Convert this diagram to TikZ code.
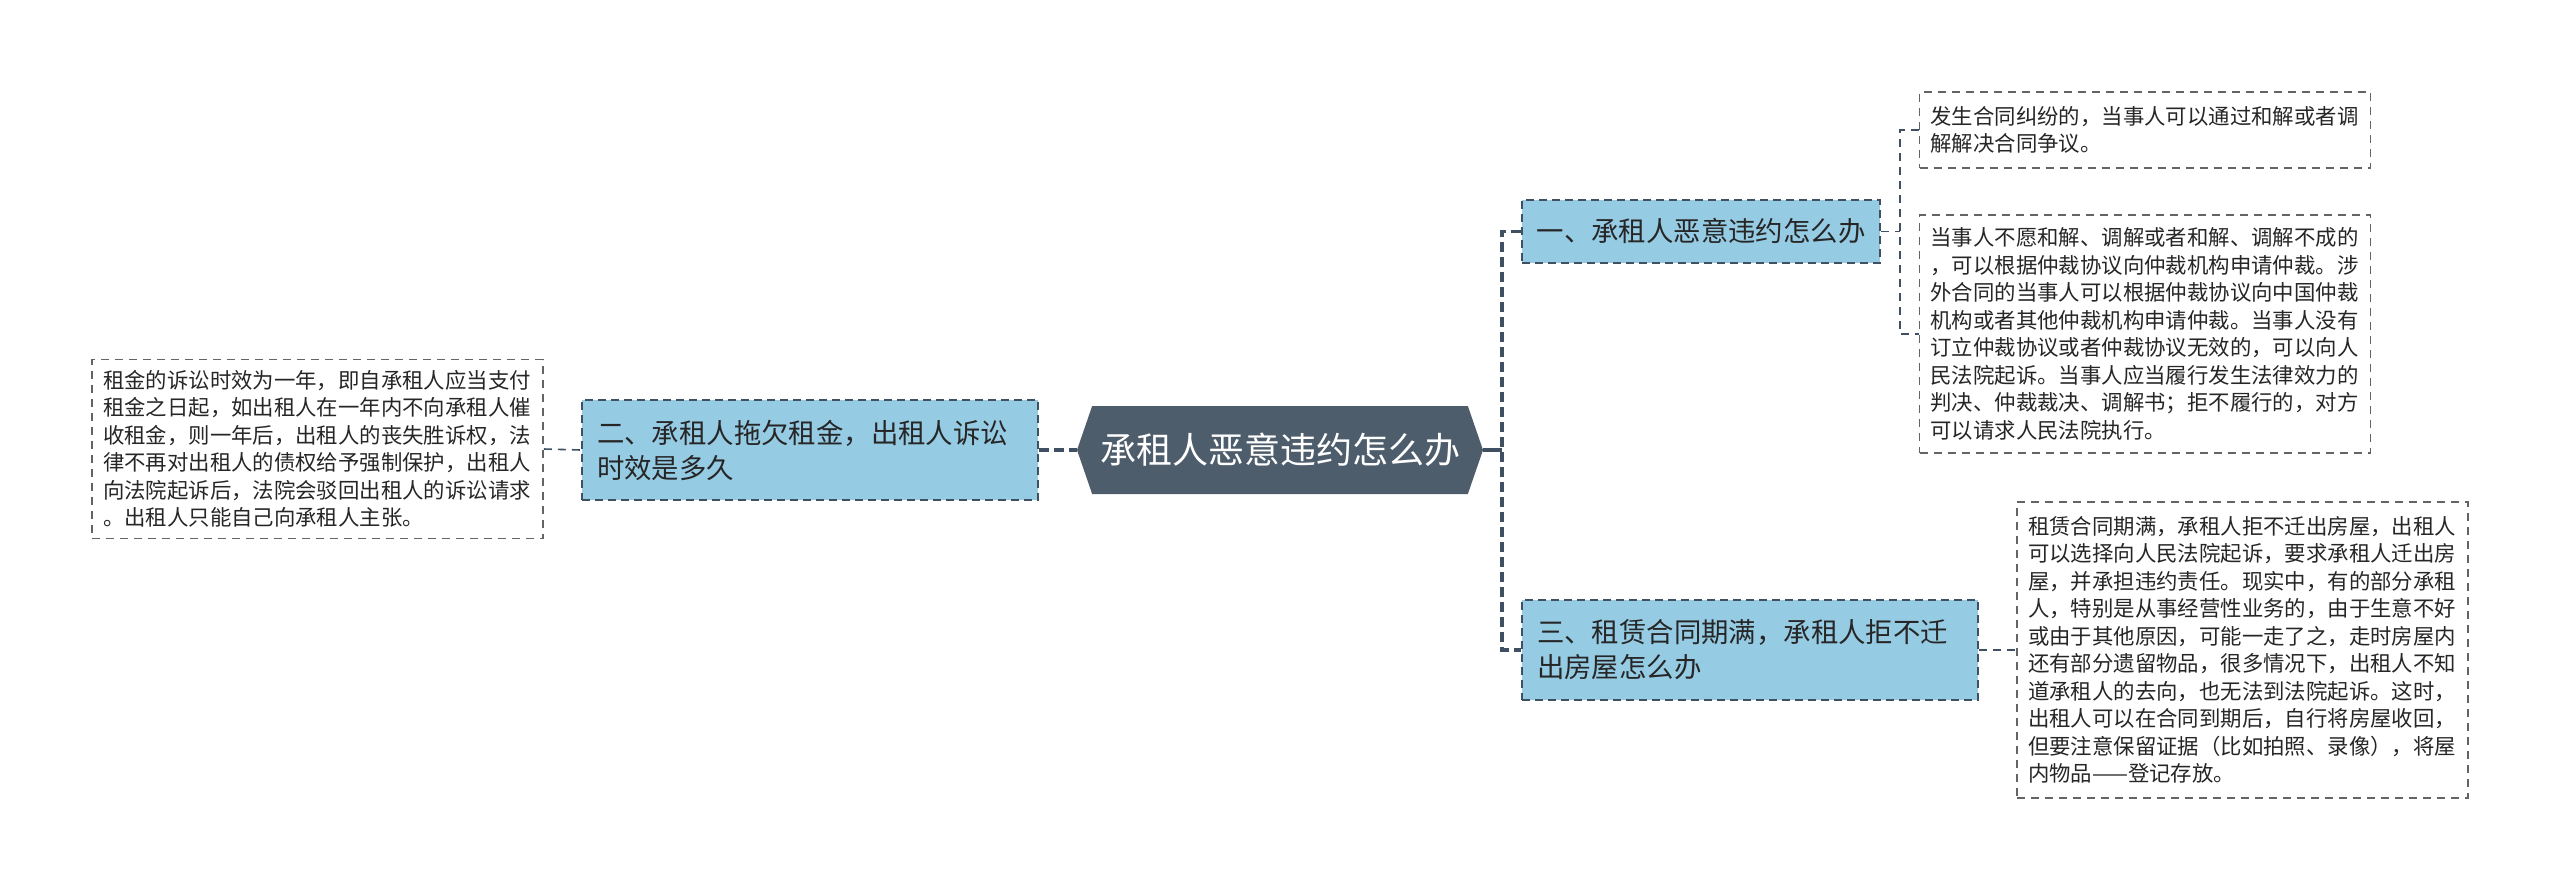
\documentclass[tikz,border=0pt]{standalone}
\usepackage{fontspec}
\usepackage{tikz}
\usetikzlibrary{shapes.symbols}
\newfontfamily\cjk{Noto Sans CJK SC}
\definecolor{rootc}{RGB}{78,93,108}
\definecolor{branchc}{RGB}{150,203,228}
\definecolor{linec}{RGB}{62,80,98}
\definecolor{leafline}{RGB}{100,100,100}

\begin{document}
\begin{tikzpicture}[x=0.5pt,y=-0.5pt,
    root/.style={signal, signal to=west and east, signal pointer angle=142, fill=rootc, text=white, inner sep=0pt, minimum width=203pt, minimum height=44pt, font=\cjk\fontsize{18pt}{22pt}\selectfont},
    branch/.style={draw=linec, fill=branchc, dash pattern=on 4pt off 2.5pt, line width=0.9pt, text=black!85, align=left, inner xsep=7.5pt, inner ysep=0pt, font=\cjk\fontsize{13.7pt}{17.5pt}\selectfont},
    leaf/.style={draw=leafline, dash pattern=on 4pt off 3pt, line width=0.8pt, fill=white, text=black!85, align=left, inner xsep=5.5pt, inner ysep=0pt, text width=214.5pt, font=\cjk\fontsize{10.7pt}{13.75pt}\selectfont},
    trunk/.style={draw=linec, line width=1.7pt, dash pattern=on 5pt off 2.5pt},
    thinlink/.style={draw=linec, line width=0.8pt, dash pattern=on 4pt off 3pt}]
    \useasboundingbox (0,0) rectangle (2560,891);
    \node[root] (0) at (1280,450) {承租人恶意违约怎么办};
    \node[branch, text width=179pt, inner xsep=0pt, align=center, minimum width=179pt, minimum height=31.5pt] (1) at (1701,231.5) {一、承租人恶意违约怎么办};
    \node[branch, text width=213pt, minimum height=50pt] (2) at (810,450) {二、承租人拖欠租金，出租人诉讼\\时效是多久};
    \node[branch, text width=213pt, minimum height=50pt] (3) at (1750,650) {三、租赁合同期满，承租人拒不迁\\出房屋怎么办};
    \node[leaf, minimum height=38pt] (11) at (2145,130) {发生合同纠纷的，当事人可以通过和解或者调\\解解决合同争议。};
    \node[leaf, minimum height=119pt] (12) at (2145,334) {当事人不愿和解、调解或者和解、调解不成的\\，可以根据仲裁协议向仲裁机构申请仲裁。涉\\外合同的当事人可以根据仲裁协议向中国仲裁\\机构或者其他仲裁机构申请仲裁。当事人没有\\订立仲裁协议或者仲裁协议无效的，可以向人\\民法院起诉。当事人应当履行发生法律效力的\\判决、仲裁裁决、调解书；拒不履行的，对方\\可以请求人民法院执行。};
    \node[leaf, minimum height=89.5pt] (21) at (317.5,449) {租金的诉讼时效为一年，即自承租人应当支付\\租金之日起，如出租人在一年内不向承租人催\\收租金，则一年后，出租人的丧失胜诉权，法\\律不再对出租人的债权给予强制保护，出租人\\向法院起诉后，法院会驳回出租人的诉讼请求\\。出租人只能自己向承租人主张。};
    \node[leaf, minimum height=148pt] (31) at (2242.5,650) {租赁合同期满，承租人拒不迁出房屋，出租人\\可以选择向人民法院起诉，要求承租人迁出房\\屋，并承担违约责任。现实中，有的部分承租\\人，特别是从事经营性业务的，由于生意不好\\或由于其他原因，可能一走了之，走时房屋内\\还有部分遗留物品，很多情况下，出租人不知\\道承租人的去向，也无法到法院起诉。这时，\\出租人可以在合同到期后，自行将房屋收回，\\但要注意保留证据（比如拍照、录像），将屋\\内物品——登记存放。};
    \coordinate (t) at (1502,450);
    \coordinate (b1) at (1900,231.5);
    \draw[trunk] (2.east) -- (0.west);
    \draw[trunk, solid] (0.east) -- (t);
    \draw[trunk] (1.west) -| (t) |- (3.west);
    \draw[thinlink] (21.east) -- (2.west);
    \draw[thinlink] (1.east) -- (b1);
    \draw[thinlink] (11.west) -| (b1) |- (12.west);
    \draw[thinlink] (3.east) -- (31.west);
\end{tikzpicture}
\end{document}
